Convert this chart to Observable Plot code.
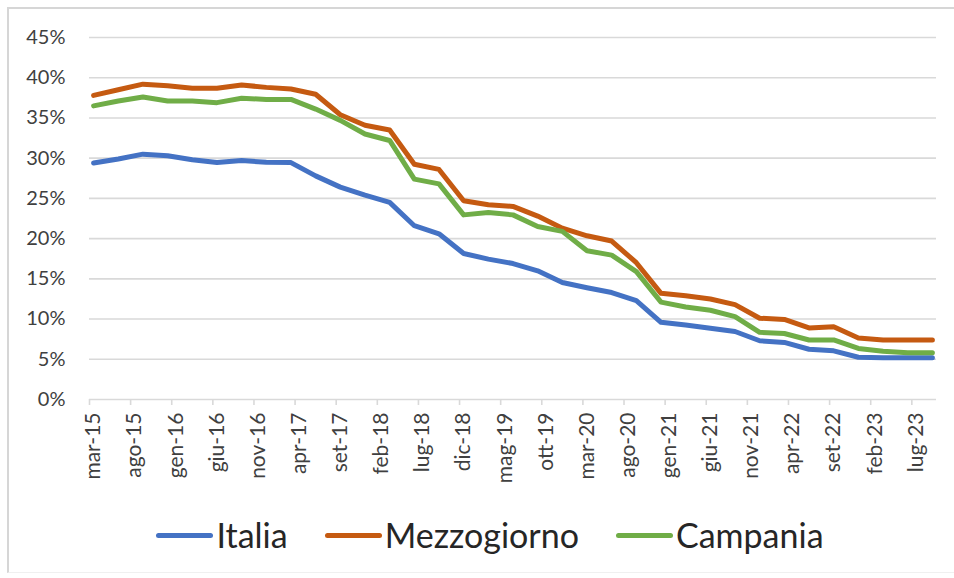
<!DOCTYPE html>
<html>
<head>
<meta charset="utf-8">
<script src="https://cdn.jsdelivr.net/npm/d3@7"></script>
<script src="https://cdn.jsdelivr.net/npm/@observablehq/plot@0.6"></script>
<style>
  html, body { margin: 0; padding: 0; background: #fff; }
  #wrap { position: relative; width: 954px; height: 578px; overflow: hidden; font-family: Lato, "Open Sans", sans-serif; }
  #frame { position: absolute; left: 7px; top: 7px; width: 960px; height: 566px; border-left: 2px solid #d6d6d6; border-top: 2px solid #d6d6d6; border-bottom: 1px solid #f0f0f0; box-sizing: border-box; }
  #chart { position: absolute; left: 0; top: 0; }
  #legend { position: absolute; left: 26px; width: 928px; top: 516px; display: flex; justify-content: center; align-items: center; gap: 37px; }
  .item { display: flex; align-items: center; }
  .sw { width: 57px; height: 5px; border-radius: 3px; margin-right: 3px; }
  .lab { font-size: 34px; line-height: 38px; color: #262626; }
</style>
</head>
<body>
<div id="wrap">
  <div id="frame"></div>
  <div id="chart"></div>
  <div id="legend"></div>
</div>
<script>
// ---- data ----
const mesi = ["gen","feb","mar","apr","mag","giu","lug","ago","set","ott","nov","dic"];
const firstMonth = "mar-15";
const lastMonth = "set-23";

const quarters = [
  "mar-15","giu-15","set-15","dic-15",
  "mar-16","giu-16","set-16","dic-16",
  "mar-17","giu-17","set-17","dic-17",
  "mar-18","giu-18","set-18","dic-18",
  "mar-19","giu-19","set-19","dic-19",
  "mar-20","giu-20","set-20","dic-20",
  "mar-21","giu-21","set-21","dic-21",
  "mar-22","giu-22","set-22","dic-22",
  "mar-23","giu-23","set-23"
];

const italia = [
  29.4, 29.9, 30.5, 30.3,
  29.8, 29.45, 29.7, 29.5,
  29.45, 27.8, 26.4, 25.4,
  24.5, 21.6, 20.6, 18.15,
  17.45, 16.9, 16.0, 14.55,
  13.9, 13.3, 12.3, 9.6,
  9.25, 8.85, 8.45, 7.3,
  7.1, 6.25, 6.05, 5.25,
  5.2, 5.2, 5.2
];

const mezzogiorno = [
  37.8, 38.5, 39.2, 39.0,
  38.7, 38.7, 39.1, 38.8,
  38.6, 37.95, 35.4, 34.1,
  33.5, 29.25, 28.6, 24.7,
  24.2, 24.0, 22.8, 21.3,
  20.35, 19.7, 17.0, 13.2,
  12.9, 12.5, 11.8, 10.1,
  9.95, 8.9, 9.05, 7.65,
  7.4, 7.4, 7.4
];

const campania = [
  36.5, 37.1, 37.6, 37.1,
  37.1, 36.9, 37.45, 37.3,
  37.3, 36.1, 34.7, 33.0,
  32.2, 27.4, 26.8, 22.95,
  23.25, 22.95, 21.5, 20.9,
  18.5, 17.95, 15.9, 12.1,
  11.5, 11.1, 10.3, 8.35,
  8.2, 7.4, 7.4, 6.35,
  6.0, 5.8, 5.8
];

const tickLabels = [
  "mar-15","ago-15","gen-16","giu-16","nov-16","apr-17","set-17",
  "feb-18","lug-18","dic-18","mag-19","ott-19","mar-20","ago-20",
  "gen-21","giu-21","nov-21","apr-22","set-22","feb-23","lug-23"
];

const yTicks = [0, 5, 10, 15, 20, 25, 30, 35, 40, 45];

const seriesNames = ["Italia", "Mezzogiorno", "Campania"];
const seriesColors = ["#4472C4", "#C55A11", "#70AD47"];
const seriesValues = [italia, mezzogiorno, campania];

// ---- build monthly category axis ----
const allMonths = [];
for (let y = 15; y <= 23; y++) for (let m = 0; m < 12; m++) allMonths.push(`${mesi[m]}-${y}`);
const timeline = allMonths.slice(allMonths.indexOf(firstMonth), allMonths.indexOf(lastMonth) + 1);
const pos = (label) => timeline.indexOf(label);

const rows = [];
seriesNames.forEach((name, s) => {
  quarters.forEach((q, i) => rows.push({series: name, x: pos(q), value: seriesValues[s][i]}));
});

const labelPositions = tickLabels.map(pos);
const boundaries = labelPositions.map((p) => p - 0.5);

const gridColor = "#d9d9d9";
const textColor = "#404040";

const chart = Plot.plot({
  width: 954,
  height: 500,
  marginLeft: 89,
  marginRight: 18,
  marginTop: 37,
  marginBottom: 101,
  style: {fontFamily: "Lato, 'Open Sans', sans-serif", background: "transparent"},
  x: {type: "linear", domain: [-0.5, timeline.length - 0.5], axis: null, label: null},
  y: {domain: [0, 45], axis: null, label: null},
  color: {domain: seriesNames, range: seriesColors},
  marks: [
    Plot.ruleY(yTicks, {stroke: gridColor, strokeWidth: 1.6}),
    Plot.axisY({ticks: yTicks, tickSize: 0, tickPadding: 24, tickFormat: (d) => d + "%", fontSize: 20, fill: textColor, label: null}),
    Plot.axisX({ticks: boundaries, tickSize: 6, tickFormat: () => "", stroke: gridColor, strokeWidth: 1.6, label: null}),
    Plot.axisX({ticks: labelPositions, tickSize: 0, tickPadding: 13, tickRotate: -90, tickFormat: (i) => timeline[i], fontSize: 21, fill: textColor, label: null}),
    Plot.line(rows, {x: "x", y: "value", z: "series", stroke: "series", strokeWidth: 5, strokeLinejoin: "round", strokeLinecap: "round"})
  ]
});
document.getElementById("chart").appendChild(chart);

// ---- legend ----
const legend = document.getElementById("legend");
seriesNames.forEach((name, i) => {
  const item = document.createElement("div");
  item.className = "item";
  const sw = document.createElement("div");
  sw.className = "sw";
  sw.style.background = seriesColors[i];
  const lab = document.createElement("span");
  lab.className = "lab";
  lab.textContent = name;
  item.appendChild(sw);
  item.appendChild(lab);
  legend.appendChild(item);
});
</script>
</body>
</html>
